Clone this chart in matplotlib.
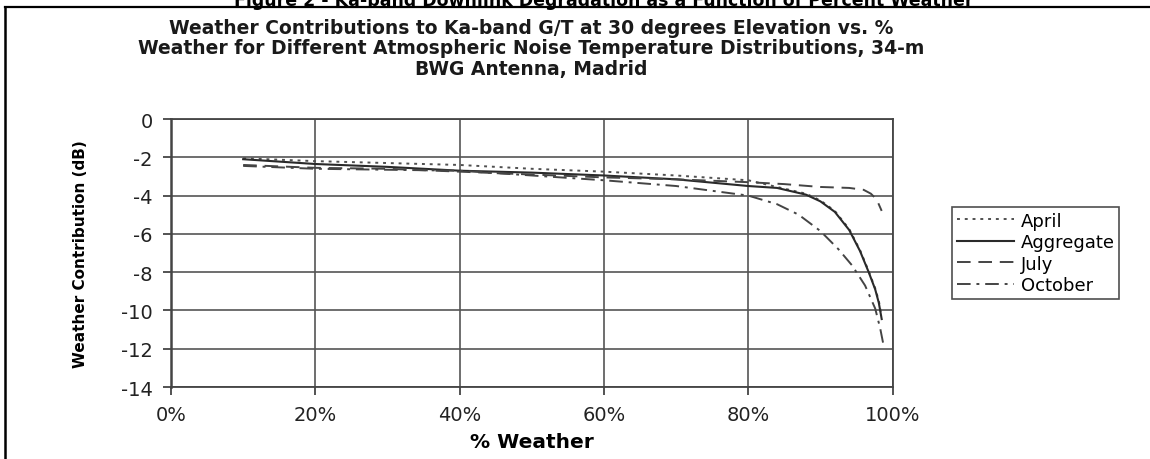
import matplotlib
matplotlib.use("Agg")
import matplotlib.pyplot as plt
from matplotlib.lines import Line2D
from matplotlib.ticker import PercentFormatter

plt.rcParams["axes.unicode_minus"] = False
plt.rcParams["font.family"] = ["DejaVu Sans"]

# values (% weather, dB)
april_x = [10, 20, 30, 40, 50, 60, 70, 80, 84, 88, 90, 92, 94, 95.5, 96.7, 97.6, 98.1, 98.5]
april_y = [-2.05, -2.2, -2.3, -2.4, -2.6, -2.75, -2.95, -3.2, -3.55, -3.9, -4.25, -4.8, -5.75, -6.85, -7.95, -8.85, -9.5, -10.3]

aggregate_x = [10, 20, 30, 40, 50, 60, 70, 80, 84, 88, 90, 92, 94, 95.5, 96.7, 97.6, 98.1, 98.5]
aggregate_y = [-2.1, -2.35, -2.5, -2.7, -2.8, -2.95, -3.15, -3.5, -3.6, -3.95, -4.3, -4.85, -5.8, -6.9, -8.0, -8.9, -9.6, -10.45]

july_x = [10, 20, 30, 40, 50, 60, 70, 80, 85, 90, 94, 96, 97, 97.8, 98.5]
july_y = [-2.4, -2.55, -2.6, -2.75, -2.9, -3.05, -3.15, -3.3, -3.4, -3.55, -3.6, -3.7, -3.9, -4.2, -4.8]

october_x = [10, 20, 30, 40, 50, 60, 70, 80, 84, 87, 90, 92.5, 94.4, 96.2, 97.6, 98.3, 98.8]
october_y = [-2.45, -2.6, -2.65, -2.7, -2.95, -3.2, -3.5, -4.0, -4.45, -5.0, -5.85, -6.8, -7.65, -8.7, -9.9, -10.95, -11.9]

x_ticks = [0, 20, 40, 60, 80, 100]
y_ticks = [0, -2, -4, -6, -8, -10, -12, -14]

fig = plt.figure(figsize=(11.5, 4.6), dpi=100)
ax = fig.add_axes([0.1487, 0.1565, 0.6274, 0.5826])

ax.plot(april_x, april_y, color="#505050", lw=1.4, linestyle=(0, (1.5, 2.5)), label="April")
ax.plot(aggregate_x, aggregate_y, color="#2a2a2a", lw=1.5, linestyle="-", label="Aggregate")
ax.plot(july_x, july_y, color="#444444", lw=1.4, linestyle=(0, (7, 4)), label="July")
ax.plot(october_x, october_y, color="#444444", lw=1.4, linestyle=(0, (7, 3, 1.5, 3)), label="October")

ax.set_xlim(0, 100)
ax.set_ylim(-14, 0)
ax.set_xticks(x_ticks)
ax.set_yticks(y_ticks)
ax.xaxis.set_major_formatter(PercentFormatter(decimals=0))
ax.grid(True, color="#555555", lw=1.2)
ax.set_axisbelow(True)
for s in ax.spines.values():
    s.set_color("#444444")
    s.set_linewidth(1.3)
ax.spines["left"].set_linewidth(1.8)
ax.tick_params(direction="out", length=6, width=1.3, color="#444444", labelsize=14, labelcolor="#222222", pad=7)

ax.set_xlabel("% Weather", fontsize=14.5, fontweight="bold", labelpad=6)
ax.set_ylabel("Weather Contribution (dB)", fontsize=11, fontweight="bold", labelpad=24)

fig.text(0.4617, 1 - 49 / 460,
         "Weather Contributions to Ka-band G/T at 30 degrees Elevation vs. %\n"
         "Weather for Different Atmospheric Noise Temperature Distributions, 34-m\n"
         "BWG Antenna, Madrid",
         ha="center", va="center", fontsize=13.5, fontweight="bold",
         multialignment="center", linespacing=1.1, color="#1a1a1a")

# caption of the page, cut off at the top edge of the scan
fig.text(0.525, 1 - 6.5 / 460, "Figure 2 - Ka-band Downlink Degradation as a Function of Percent Weather",
         ha="center", va="baseline", fontsize=12.5, fontweight="bold")

# page frame
fig.add_artist(Line2D([5 / 1150, 1], [1 - 8 / 460, 1 - 8 / 460], color="black", lw=1.6))
fig.add_artist(Line2D([5 / 1150, 5 / 1150], [0, 1 - 8 / 460], color="black", lw=1.8))

fig.legend(loc="upper left", bbox_to_anchor=(952 / 1150, 1 - 208 / 460), borderaxespad=0,
           fontsize=13, frameon=True, fancybox=False, edgecolor="#222222",
           handlelength=3.2, handletextpad=0.35, labelspacing=0.2, borderpad=0.25)
fig.legends[0].get_frame().set_linewidth(1.2)

fig.savefig("out.png", dpi=100)
